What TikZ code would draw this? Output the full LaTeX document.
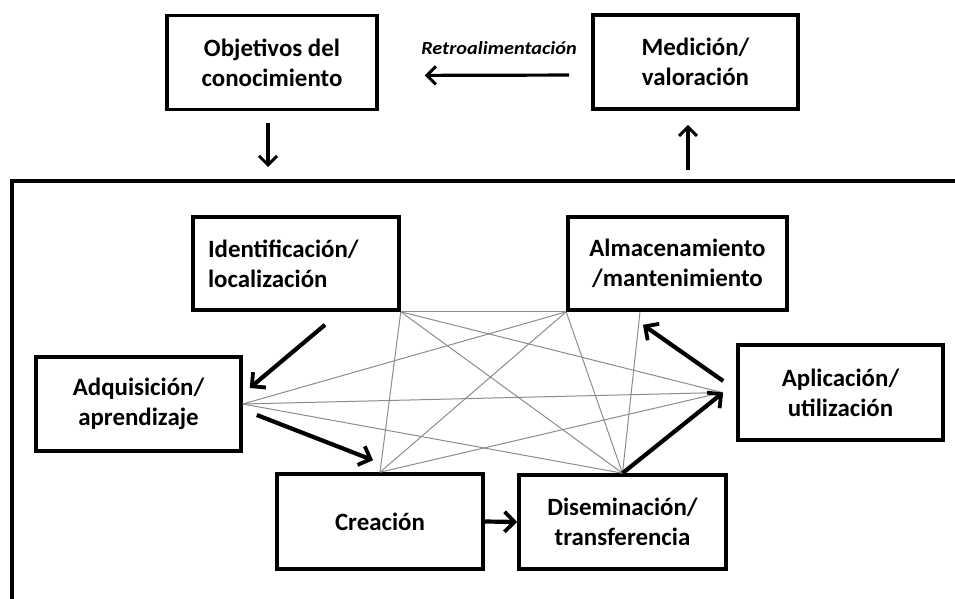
\documentclass[tikz,border=0pt]{standalone}
\usepackage{fontspec}
\usepackage{graphicx}
\setmainfont{Carlito}
\usetikzlibrary{arrows.meta,calc}
\begin{document}
\begin{tikzpicture}[x=1bp,y=-1bp,
  box/.style={draw=black,line width=3.6bp,minimum width=#1,minimum height=94bp,inner sep=0pt,align=center,
    font=\fontsize{25}{30}\selectfont\bfseries},
  thinarr/.style={line width=3.2bp,-{Straight Barb[length=9bp,width=18bp,line width=3bp]}},
  bigarr/.style={line width=4.2bp,-{Straight Barb[length=10bp,width=20bp,line width=3.8bp]}},
  web/.style={draw=black!45,line width=1bp},
  frame/.style={line width=3.8bp}]
\useasboundingbox (0,0) rectangle (955,599);

% top boxes
\node[box=210bp] (obj) at (272,62.5) {Objetivos del\\conocimiento};
\node[box=205bp] (med) at (695.5,62) {Medición/\\valoración};
\node[font=\fontsize{18.5}{22}\selectfont\bfseries\itshape] (retro) at (499,48) {\scalebox{1.1}[1]{Retroalimentación}};

% frame
\coordinate (fc) at (12,181);
\coordinate (fr) at (955,181);
\coordinate (fb) at (12,599);
\draw[frame] (fb) -- (fc) -- (fr);

% inner boxes
\node[box=206bp,minimum height=93bp,text width=176bp,inner xsep=15bp,align=left] (ide) at (296,263.5) {Identificación/\\localización};
\node[box=219bp,minimum height=93bp] (alm) at (677.5,263.5) {Almacenamiento\\/mantenimiento};
\node[box=205bp] (adq) at (138.5,404) {Adquisición/\\aprendizaje};
\node[box=205bp,minimum height=95bp] (apl) at (840.5,392.5) {Aplicación/\\utilización};
\node[box=206bp,minimum height=95bp] (cre) at (380,521.5) {Creación};
\node[box=207bp] (dis) at (622.5,522) {Diseminación/\\transferencia};

% helper points
\coordinate (aplp) at ([xshift=-14bp]apl.west);
\coordinate (almb) at ([xshift=-37.5bp]alm.south);

% web of gray lines
\draw[web] (ide.south east) -- (alm.south west);
\draw[web] (ide.south east) -- (cre.north);
\draw[web] (ide.south east) -- (dis.north);
\draw[web] (ide.south east) -- (aplp);
\draw[web] (alm.south west) -- (adq.east);
\draw[web] (alm.south west) -- (cre.north);
\draw[web] (alm.south west) -- (dis.north);
\draw[web] (almb) -- (dis.north);
\draw[web] (adq.east) -- (aplp);
\draw[web] (adq.east) -- (dis.north);
\draw[web] (cre.north) -- (aplp);

% top arrows
\draw[thinarr,shorten <=22bp,shorten >=46bp] ([yshift=-13bp]med.west) -- ([yshift=-13bp]obj.east);
\draw[thinarr,shorten <=12bp,shorten >=14bp] ([xshift=-4bp]obj.south) -- ([xshift=-4bp]obj.south |- fc);
\draw[thinarr,shorten <=11bp,shorten >=14bp] ([xshift=-7.5bp]med.south |- fc) -- ([xshift=-7.5bp]med.south);

% cycle arrows
\draw[bigarr] ([xshift=29bp,yshift=-13bp]ide.south) -- ([xshift=7bp,yshift=16bp]adq.east);
\draw[bigarr] ([xshift=14bp,yshift=-11bp]adq.east) -- ([xshift=-7bp,yshift=12bp]cre.north);
\draw[bigarr] (cre.east) -- (dis.west);
\draw[bigarr] (dis.north) -- ([xshift=1bp]aplp);
\draw[bigarr] ([xshift=-13bp,yshift=11.5bp]apl.west) -- ([xshift=-34.5bp,yshift=-13bp]alm.south);
\end{tikzpicture}
\end{document}
